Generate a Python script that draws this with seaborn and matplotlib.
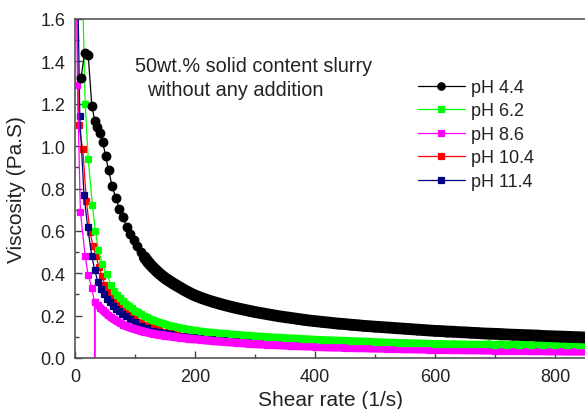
import matplotlib
matplotlib.use("Agg")
import matplotlib.pyplot as plt
import seaborn as sns
import pandas as pd
from matplotlib.ticker import MultipleLocator

# ---------------- data ----------------
tail_x = [210, 220, 230, 240, 250, 260, 270, 280, 290, 300,
          310, 320, 330, 340, 350, 360, 370, 380, 390, 400,
          410, 420, 430, 440, 450, 460, 470, 480, 490, 500,
          510, 520, 530, 540, 550, 560, 570, 580, 590, 600,
          610, 620, 630, 640, 650, 660, 670, 680, 690, 700,
          710, 720, 730, 740, 750, 760, 770, 780, 790, 800,
          810, 820, 830, 840, 850, 860]

ph44_x = [10, 16, 22, 28, 33, 37, 41, 46, 51, 56,
          62, 68, 74, 80, 86, 92, 98, 104, 110, 116,
          122, 128, 134, 140, 146, 152, 158, 164, 170, 176,
          182, 188, 194, 200]
ph44_y = [1.32, 1.44, 1.43, 1.19, 1.12, 1.09, 1.06, 1.02, 0.955, 0.885,
          0.81, 0.755, 0.705, 0.665, 0.62, 0.585, 0.555, 0.53, 0.50, 0.475,
          0.452, 0.433, 0.416, 0.400, 0.386, 0.373, 0.362, 0.351, 0.341, 0.331,
          0.321, 0.312, 0.303, 0.295]
ph44_tail = [0.284, 0.274, 0.265, 0.257, 0.249, 0.242, 0.235, 0.229, 0.223, 0.217,
             0.212, 0.207, 0.202, 0.197, 0.193, 0.189, 0.185, 0.181, 0.177, 0.174,
             0.171, 0.168, 0.165, 0.162, 0.160, 0.157, 0.155, 0.152, 0.150, 0.148,
             0.146, 0.144, 0.142, 0.140, 0.138, 0.136, 0.134, 0.132, 0.130, 0.128,
             0.127, 0.125, 0.124, 0.122, 0.121, 0.119, 0.118, 0.116, 0.115, 0.114,
             0.113, 0.111, 0.110, 0.109, 0.108, 0.107, 0.106, 0.104, 0.103, 0.102,
             0.101, 0.100, 0.099, 0.098, 0.097, 0.096]

ph62_x = [12, 17, 22, 29, 34, 39, 45, 53, 60, 65,
          70, 75, 80, 85, 90, 95, 100, 105, 110, 115,
          120, 125, 130, 135, 140, 145, 150, 155, 160, 165,
          170, 175, 180, 185, 190, 195, 200]
ph62_y = [1.8, 1.20, 0.94, 0.72, 0.60, 0.51, 0.445, 0.395, 0.345, 0.318,
          0.298, 0.283, 0.27, 0.257, 0.245, 0.234, 0.224, 0.215, 0.207, 0.199,
          0.192, 0.186, 0.180, 0.175, 0.170, 0.165, 0.161, 0.157, 0.153, 0.150,
          0.146, 0.143, 0.140, 0.137, 0.135, 0.132, 0.130]
ph62_tail = [0.127, 0.124, 0.121, 0.118, 0.116, 0.113, 0.111, 0.109, 0.107, 0.105,
             0.103, 0.101, 0.099, 0.098, 0.096, 0.095, 0.093, 0.092, 0.090, 0.088,
             0.087, 0.086, 0.085, 0.084, 0.083, 0.082, 0.081, 0.080, 0.078, 0.077,
             0.076, 0.075, 0.074, 0.073, 0.073, 0.072, 0.071, 0.070, 0.069, 0.068,
             0.068, 0.067, 0.067, 0.066, 0.066, 0.065, 0.065, 0.064, 0.067, 0.063,
             0.068, 0.062, 0.066, 0.062, 0.067, 0.061, 0.065, 0.061, 0.066, 0.060,
             0.064, 0.060, 0.067, 0.059, 0.063, 0.059]

ph86_x = [1, 4, 9, 17, 22, 28, 32.5, 33, 33.5, 38, 42, 46, 50,
          55, 60, 65, 70, 75, 80, 85, 90, 95, 100,
          105, 110, 115, 120, 125, 130, 135, 140, 145, 150,
          155, 160, 165, 170, 175, 180, 185, 190, 195, 200]
ph86_y = [2.4, 1.29, 0.69, 0.48, 0.39, 0.33, 0.265, -1.0, 0.262, 0.25, 0.238, 0.226, 0.215,
          0.203, 0.192, 0.182, 0.173, 0.165, 0.158, 0.151, 0.145, 0.140, 0.136,
          0.132, 0.128, 0.124, 0.121, 0.118, 0.115, 0.112, 0.110, 0.108, 0.106,
          0.104, 0.102, 0.100, 0.098, 0.096, 0.095, 0.093, 0.092, 0.090, 0.089]
ph86_tail = [0.086, 0.083, 0.080, 0.078, 0.076, 0.074, 0.072, 0.070, 0.068, 0.066,
             0.065, 0.063, 0.062, 0.061, 0.059, 0.058, 0.057, 0.056, 0.055, 0.054,
             0.052, 0.051, 0.050, 0.050, 0.049, 0.048, 0.047, 0.047, 0.046, 0.045,
             0.045, 0.044, 0.043, 0.043, 0.042, 0.042, 0.041, 0.041, 0.040, 0.040,
             0.039, 0.039, 0.038, 0.038, 0.037, 0.037, 0.037, 0.036, 0.036, 0.035,
             0.035, 0.035, 0.034, 0.034, 0.034, 0.033, 0.033, 0.033, 0.032, 0.032,
             0.032, 0.031, 0.031, 0.031, 0.031, 0.030]

ph104_x = [2, 6, 13, 19, 25, 30, 35, 40, 45, 50,
           55, 60, 65, 70, 75, 80, 85, 90, 95, 100,
           110, 120, 130, 140, 150, 160, 170, 180, 190, 200]
ph104_y = [1.9, 1.10, 0.985, 0.74, 0.595, 0.53, 0.48, 0.43, 0.385, 0.345,
           0.315, 0.29, 0.27, 0.253, 0.238, 0.225, 0.213, 0.203, 0.194, 0.186,
           0.170, 0.157, 0.146, 0.135, 0.124, 0.117, 0.111, 0.106, 0.102, 0.100]
ph104_tail = [0.097, 0.094, 0.091, 0.089, 0.087, 0.085, 0.083, 0.081, 0.079, 0.077,
              0.076, 0.074, 0.073, 0.072, 0.070, 0.069, 0.068, 0.067, 0.066, 0.065,
              0.063, 0.062, 0.061, 0.061, 0.060, 0.059, 0.058, 0.058, 0.057, 0.056,
              0.056, 0.055, 0.054, 0.054, 0.053, 0.053, 0.052, 0.052, 0.051, 0.051,
              0.050, 0.050, 0.049, 0.049, 0.048, 0.048, 0.048, 0.047, 0.047, 0.046,
              0.046, 0.046, 0.045, 0.045, 0.045, 0.044, 0.044, 0.044, 0.043, 0.043,
              0.043, 0.042, 0.042, 0.042, 0.042, 0.041]

ph114_x = [1, 8, 15, 21, 28, 33, 38, 43, 48, 53,
           58, 63, 68, 73, 78, 85, 92, 100, 110, 120,
           130, 140, 150, 160, 170, 180, 190, 200]
ph114_y = [2.4, 1.14, 0.77, 0.62, 0.48, 0.415, 0.36, 0.325, 0.30, 0.28,
           0.262, 0.246, 0.232, 0.22, 0.209, 0.196, 0.184, 0.168, 0.153, 0.140,
           0.129, 0.123, 0.118, 0.111, 0.106, 0.102, 0.099, 0.097]
ph114_tail = [0.094, 0.091, 0.088, 0.086, 0.084, 0.082, 0.080, 0.078, 0.076, 0.074,
              0.073, 0.071, 0.070, 0.069, 0.067, 0.066, 0.065, 0.064, 0.063, 0.062,
              0.060, 0.059, 0.058, 0.058, 0.057, 0.056, 0.055, 0.055, 0.054, 0.053,
              0.053, 0.052, 0.051, 0.051, 0.050, 0.050, 0.049, 0.049, 0.048, 0.048,
              0.047, 0.047, 0.046, 0.046, 0.045, 0.045, 0.045, 0.044, 0.044, 0.043,
              0.043, 0.043, 0.042, 0.042, 0.042, 0.041, 0.041, 0.041, 0.040, 0.040,
              0.040, 0.039, 0.039, 0.039, 0.039, 0.038]

labels = ["pH 4.4", "pH 6.2", "pH 8.6", "pH 10.4", "pH 11.4"]
colors = ["#000000", "#00ff00", "#ff00ff", "#ff0000", "#000080"]
markers = ["o", "s", "s", "s", "s"]
heads_x = [ph44_x, ph62_x, ph86_x, ph104_x, ph114_x]
heads_y = [ph44_y, ph62_y, ph86_y, ph104_y, ph114_y]
tails_y = [ph44_tail, ph62_tail, ph86_tail, ph104_tail, ph114_tail]

# ---------------- style ----------------
sns.set_theme(style="ticks")
plt.rcParams["font.family"] = ["Liberation Sans", "DejaVu Sans"]
txt = "#222222"

fig = plt.figure(figsize=(5.85, 4.10), dpi=100)
W, H = 585.0, 410.0
ax = fig.add_axes([75 / W, 51 / H, 510 / W, 339 / H])

zorders = [2.6, 2.5, 2.4, 2.2, 2.3]
msizes = [6.2, 4.9, 4.9, 4.9, 4.9]
# dense-band underlay: start x of band region and band width (points)
band_start = [116, 70, 42, None, None]
band_width = [8.5, 5.0, 6.0, 0, 0]
for lab, c, m, hx, hy, ty, z, ms, bs, bw in zip(labels, colors, markers,
                                                heads_x, heads_y, tails_y,
                                                zorders, msizes, band_start,
                                                band_width):
    df = pd.DataFrame({"x": list(hx) + tail_x, "y": list(hy) + ty})
    if bs is not None:
        band = df[df["x"] >= bs]
        sns.lineplot(data=band, x="x", y="y", ax=ax, color=c, linewidth=bw,
                     estimator=None, sort=False, legend=False,
                     zorder=z - 0.05, solid_capstyle="round")
    sns.lineplot(data=df, x="x", y="y", ax=ax, color=c, marker=m,
                 markersize=ms, markeredgewidth=0.9, markeredgecolor=c,
                 linewidth=0.9, estimator=None, sort=False, label=lab,
                 zorder=z)

h, l = ax.get_legend_handles_labels()
order = [l.index(s) for s in labels]
leg = ax.legend([h[i] for i in order], [l[i] for i in order],
                loc="upper left", bbox_to_anchor=(418 / W, 1 - 80 / H),
                bbox_transform=fig.transFigure, frameon=False,
                fontsize=13, handlelength=2.6, handletextpad=0.35,
                labelspacing=0.36, borderpad=0, borderaxespad=0,
                markerscale=0.85)
for t in leg.get_texts():
    t.set_color(txt)

ax.set_xlim(0, 850)
ax.set_ylim(0.0, 1.6)
ax.xaxis.set_major_locator(MultipleLocator(200))
ax.xaxis.set_minor_locator(MultipleLocator(100))
ax.yaxis.set_major_locator(MultipleLocator(0.2))
ax.yaxis.set_minor_locator(MultipleLocator(0.1))
ax.yaxis.set_major_formatter(matplotlib.ticker.FormatStrFormatter("%.1f"))

ax.tick_params(axis="both", which="major", direction="in", length=5,
               width=1.0, color="#444444", labelsize=13, labelcolor=txt, pad=7)
ax.tick_params(axis="both", which="minor", direction="in", length=3,
               width=1.0, color="#444444")
ax.tick_params(top=False, right=False, which="both")

for s in ["left", "bottom", "top"]:
    ax.spines[s].set_color("#555555")
    ax.spines[s].set_linewidth(1.2)
ax.spines["right"].set_visible(False)

ax.set_xlabel("Shear rate (1/s)", fontsize=15, color=txt)
ax.set_ylabel("Viscosity (Pa.S)", fontsize=15, color=txt)
ax.xaxis.set_label_coords(0.5, -0.094)
ax.yaxis.set_label_coords(-0.097, 0.5)

fig.text(135 / W, 1 - 67 / H, "50wt.% solid content slurry", fontsize=14.3,
         color=txt, ha="left", va="center")
fig.text(147 / W, 1 - 90 / H, "without any addition", fontsize=14.3,
         color=txt, ha="left", va="center")

fig.savefig("out.png", dpi=100)
